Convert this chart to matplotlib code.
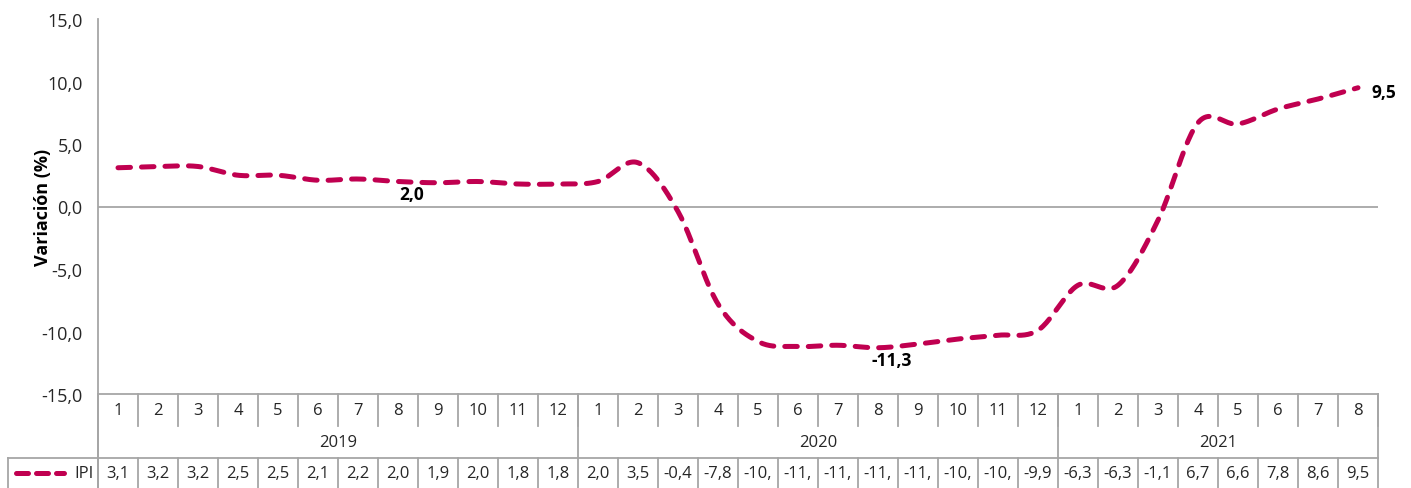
import numpy as np
import matplotlib
matplotlib.use('Agg')
import matplotlib.pyplot as plt
from matplotlib.transforms import blended_transform_factory
from matplotlib.lines import Line2D

# ---------------- data ----------------
years = ['2019', '2020', '2021']
months_per_year = [12, 12, 8]
month_labels = [str(m) for m in range(1, 13)] * 2 + [str(m) for m in range(1, 9)]
ipi = [3.1, 3.2, 3.2, 2.5, 2.5, 2.1, 2.2, 2.0, 1.9, 2.0, 1.8, 1.8,
       2.0, 3.5, -0.4, -7.8, -10.8, -11.2, -11.1, -11.3, -11.0, -10.6, -10.3, -9.9,
       -6.3, -6.3, -1.1, 6.7, 6.6, 7.8, 8.6, 9.5]
series_name = 'IPI'
yticks = [-15, -10, -5, 0, 5, 10, 15]
annot_idx = [7, 19, 31]
y_label = 'Variación (%)'

# ---------------- style ----------------
W, H = 1411, 489
LINE_COLOR = '#C00050'
GRID = '#A6A6A6'
TXT = '#262626'
FONT = 'Open Sans'
plt.rcParams['font.family'] = [FONT, 'DejaVu Sans']

def fmt(v):
    return f'{v:.1f}'.replace('.', ',')

def smooth(y, n=24):
    y = np.asarray(y, float)
    p = np.concatenate([[2 * y[0] - y[1]], y, [2 * y[-1] - y[-2]]])
    xs, ys = [], []
    for i in range(len(y) - 1):
        p0, p1, p2, p3 = p[i], p[i + 1], p[i + 2], p[i + 3]
        t = np.linspace(0, 1, n, endpoint=False)
        yy = 0.5 * ((2 * p1) + (-p0 + p2) * t + (2 * p0 - 5 * p1 + 4 * p2 - p3) * t ** 2
                    + (-p0 + 3 * p1 - 3 * p2 + p3) * t ** 3)
        xs.append(i + t)
        ys.append(yy)
    xs.append([len(y) - 1])
    ys.append([y[-1]])
    return np.concatenate(xs), np.concatenate(ys)

fig = plt.figure(figsize=(W / 100, H / 100), dpi=100)
ax = fig.add_axes([98 / W, (H - 395) / H, 1280 / W, 375 / H])
n = len(ipi)
ax.set_xlim(-0.5, n - 0.5)
ax.set_ylim(yticks[0], yticks[-1])

sx, sy = smooth(ipi)
LW = 3.6
ax.plot(sx, sy, color=LINE_COLOR, lw=LW, dashes=(2.5, 2.2), dash_capstyle='round',
        solid_capstyle='round', zorder=3)
ax.axhline(0, color=GRID, lw=1.3, zorder=1)

for s in ['top', 'right']:
    ax.spines[s].set_visible(False)
for s in ['left', 'bottom']:
    ax.spines[s].set_color(GRID)
    ax.spines[s].set_linewidth(1.3)
ax.set_xticks([])
ax.set_yticks(yticks)
ax.set_yticklabels([fmt(v) for v in yticks], fontsize=13, color=TXT)
ax.tick_params(axis='y', length=0, pad=11)
fig.text(43 / W, (H - 207) / H, y_label, rotation=90, ha='center', va='center',
         fontsize=13, fontweight='bold', color='black')

# data labels
for i in annot_idx:
    if i == n - 1:
        ax.annotate(fmt(ipi[i]), (i, ipi[i]), xytext=(10, -3), textcoords='offset points',
                    ha='left', va='center', fontsize=12.5, fontweight='bold', color='black')
    else:
        ax.annotate(fmt(ipi[i]), (i, ipi[i]), xytext=(10, -9), textcoords='offset points',
                    ha='center', va='center', fontsize=12.5, fontweight='bold', color='black')

# ---------------- data table ----------------
T = blended_transform_factory(ax.transData, fig.transFigure)
F = fig.transFigure
fy = lambda p: (H - p) / H
fx = lambda p: p / W

def vline(x, y0, y1):
    fig.add_artist(Line2D([x, x], [fy(y0), fy(y1)], transform=T, color=GRID, lw=1.3))

# month row
for b in range(n + 1):
    vline(b - 0.5, 395, 427)
for i, m in enumerate(month_labels):
    fig.text(i, fy(411), m, transform=T, ha='center', va='center', fontsize=12, color=TXT)
# year row
bounds = np.concatenate([[0], np.cumsum(months_per_year)])
for b in bounds:
    vline(b - 0.5, 395, 459)
for k, yr in enumerate(years):
    c = (bounds[k] + bounds[k + 1] - 1) / 2
    fig.text(c, fy(443), yr, transform=T, ha='center', va='center', fontsize=12, color=TXT)
# data row
fig.add_artist(Line2D([fx(8), fx(1378)], [fy(459), fy(459)], transform=F, color=GRID, lw=1.3))
for b in range(n + 1):
    vline(b - 0.5, 459, 492)
fig.add_artist(Line2D([fx(8), fx(8)], [fy(459), fy(492)], transform=F, color=GRID, lw=1.3))
fig.add_artist(Line2D([fx(98), fx(98)], [fy(395), fy(492)], transform=F, color=GRID, lw=1.3))
for i, v in enumerate(ipi):
    s = fmt(v)
    if len(s) > 4:
        s = s[:4]
    fig.text(i, fy(474), s, transform=T, ha='center', va='center', fontsize=12, color=TXT)
# legend key
fig.add_artist(Line2D([fx(16), fx(64)], [fy(474), fy(474)], transform=F, color=LINE_COLOR,
                      lw=LW, dashes=(2.4, 1.6), dash_capstyle='round'))
fig.text(fx(84), fy(474), series_name, transform=F, ha='center', va='center', fontsize=12, color=TXT)

fig.savefig('out.png', dpi=100)
